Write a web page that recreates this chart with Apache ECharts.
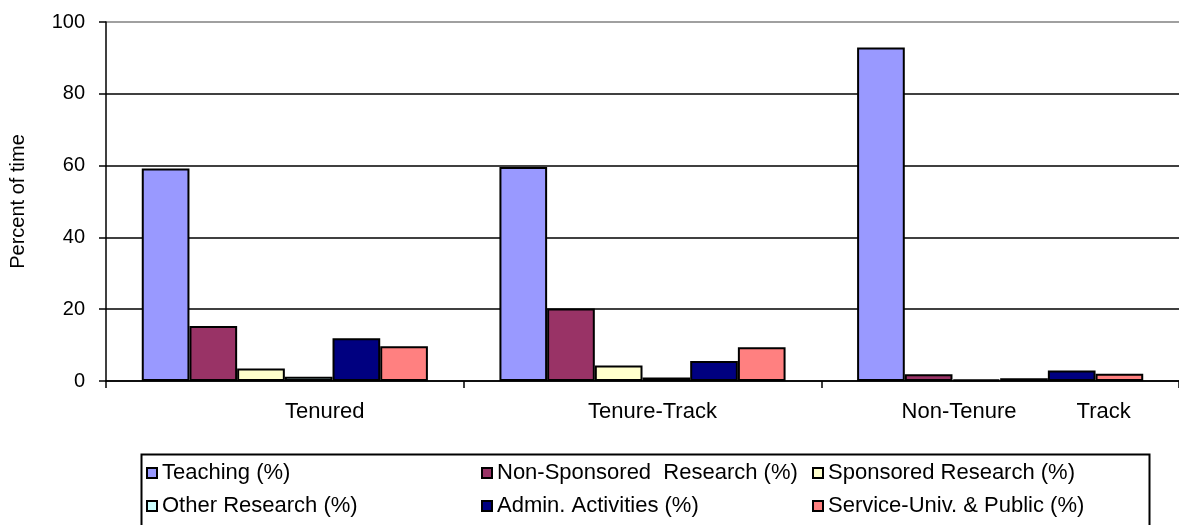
<!DOCTYPE html>
<html>
<head>
<meta charset="utf-8">
<script src="https://cdn.jsdelivr.net/npm/echarts@6/dist/echarts.min.js"></script>
<style>
html,body{margin:0;padding:0;background:#fff;}
#chart{width:1179px;height:525px;}
</style>
</head>
<body>
<div id="chart"></div>
<script>
const categories = ['Tenured', 'Tenure-Track', 'Non-Tenure Track'];
const seriesNames = ['Teaching (%)', 'Non-Sponsored  Research (%)', 'Sponsored Research (%)', 'Other Research (%)', 'Admin. Activities (%)', 'Service-Univ. & Public (%)'];
const teaching = [59.2, 59.6, 92.9];
const nonSponsored = [15.3, 20.2, 1.9];
const sponsored = [3.5, 4.3, 0.4];
const otherResearch = [1.2, 1.0, 0.8];
const admin = [11.9, 5.6, 2.9];
const service = [9.7, 9.4, 2.0];
const yTicks = [0, 20, 40, 60, 80, 100];

const seriesValues = [teaching, nonSponsored, sponsored, otherResearch, admin, service];
const colors = ['#9999FF', '#993366', '#FFFFCC', '#CCFFFF', '#000080', '#FF8080'];
const font = 'Liberation Sans, Arial, sans-serif';

const chart = echarts.init(document.getElementById('chart'), null, {renderer: 'canvas'});

const legendPos = [
  {left: 146, top: 460}, {left: 481, top: 460}, {left: 812, top: 460},
  {left: 146, top: 493}, {left: 481, top: 493}, {left: 812, top: 493}
];

const option = {
  animation: false,
  backgroundColor: '#fff',
  textStyle: {fontFamily: font},
  grid: {left: 98, top: 22, right: -10, bottom: 144, containLabel: false},
  legend: seriesNames.map((n, i) => ({
    data: [n],
    left: legendPos[i].left,
    top: legendPos[i].top,
    icon: 'rect',
    itemWidth: 10,
    itemHeight: 10,
    itemGap: 0,
    padding: 0,
    textStyle: {fontFamily: font, fontSize: 22, color: '#000', lineHeight: 26},
    selectedMode: false
  })),
  xAxis: {
    type: 'category',
    data: categories,
    axisLine: {lineStyle: {color: '#000', width: 1.5}},
    axisTick: {show: true, length: 7, lineStyle: {color: '#000', width: 1.5}},
    axisLabel: {
      interval: 0,
      margin: 20,
      color: '#000',
      fontSize: 22,
      fontFamily: font,
      formatter: function (v, i) {
        if (i === 0) return '{p0|' + v + '}';
        if (i === 1) return '{p1|' + v + '}';
        const parts = v.split(' ');
        return '{p2|' + parts[0] + '}{g|}{t|' + parts[1] + '}';
      },
      rich: {
        p0: {fontSize: 22, fontFamily: font, color: '#000', padding: [0, 0, 0, 80]},
        p1: {fontSize: 22, fontFamily: font, color: '#000', padding: [0, 0, 0, 20]},
        p2: {fontSize: 22, fontFamily: font, color: '#000', padding: [0, 0, 0, 32]},
        g: {width: 60},
        t: {fontSize: 22, fontFamily: font, color: '#000'}
      }
    },
    splitLine: {show: false}
  },
  yAxis: {
    type: 'value',
    min: 0,
    max: 100,
    interval: 20,
    name: 'Percent of time',
    nameLocation: 'middle',
    nameRotate: 90,
    nameGap: 78,
    nameTextStyle: {fontSize: 20, fontFamily: font, color: '#000'},
    axisLine: {show: true, lineStyle: {color: '#000', width: 1.5}},
    axisTick: {show: true, length: 7, lineStyle: {color: '#000', width: 1.5}},
    axisLabel: {
      color: '#000', fontSize: 20, fontFamily: font, margin: 21,
      formatter: function (v) { return yTicks.indexOf(v) >= 0 ? String(v) : ''; }
    },
    splitLine: {show: true, lineStyle: {color: ['#000', '#000', '#000', '#000', '#000', '#808080'], width: 1.5}}
  },
  series: seriesNames.map((n, i) => ({
    name: n,
    type: 'bar',
    data: seriesValues[i],
    barGap: '0%',
    barCategoryGap: '20%',
    itemStyle: {color: colors[i], borderColor: '#000', borderWidth: 2},
    emphasis: {disabled: true}
  })),
  graphic: [{
    type: 'rect',
    left: 139,
    top: 452,
    shape: {width: 1008, height: 100},
    style: {fill: 'none', stroke: '#000', lineWidth: 2},
    z: 0
  }]
};
chart.setOption(option);
</script>
</body>
</html>
